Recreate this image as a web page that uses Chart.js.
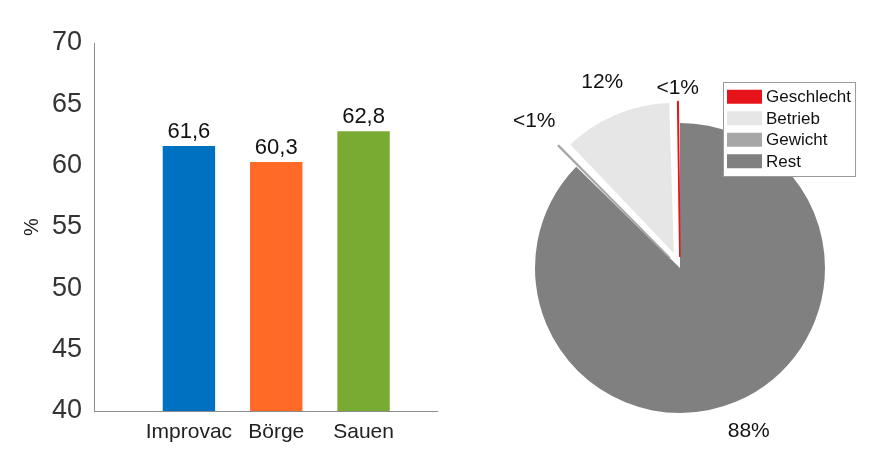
<!DOCTYPE html>
<html>
<head>
<meta charset="utf-8">
<script src="https://cdn.jsdelivr.net/npm/chart.js@4"></script>
<style>
  html, body { margin: 0; padding: 0; background: #fff; }
  #wrap { position: relative; width: 883px; height: 450px; overflow: hidden; }
  #barBox { position: absolute; left: 0; top: 0; width: 450px; height: 450px; }
  #pieBox { position: absolute; left: 450px; top: 0; width: 433px; height: 450px; }
</style>
</head>
<body>
<div id="wrap">
  <div id="barBox"><canvas id="barChart" width="450" height="450"></canvas></div>
  <div id="pieBox"><canvas id="pieChart" width="433" height="450"></canvas></div>
</div>
<script>
const FONT = "'Liberation Sans', Arial, sans-serif";

// bar chart data
const barCategories = ["Improvac", "Börge", "Sauen"];
const barValues = [61.6, 60.3, 62.8];
const barColors = ["#0070c0", "#ff6a27", "#79ab33"];
const yMin = 40;
const yMax = 70;
const yStep = 5;

// pie chart data (legend order, counter-clockwise from 12 o'clock)
const pieLabels = ["Geschlecht", "Betrieb", "Gewicht", "Rest"];
const pieValues = [0.4, 11.8, 0.5, 87.3];
const pieText = ["<1%", "12%", "<1%", "88%"];
const pieColors = ["#e8141b", "#e6e6e6", "#a6a6a6", "#808080"];
// Chart.js moves an arc by offset / 4
const pieExplode = [44, 64, 56, 0];
// thin slices get an outline in their own colour so they stay visible
const pieOutline = [1.6, 0, 1.6, 0];

Chart.defaults.font.family = FONT;
Chart.defaults.animation = false;

// numbers above the bars
const barLabels = {
  id: "barLabels",
  afterDatasetsDraw(chart) {
    const ctx = chart.ctx;
    const meta = chart.getDatasetMeta(0);
    ctx.save();
    ctx.font = "22px " + FONT;
    ctx.fillStyle = "#111";
    ctx.textAlign = "center";
    ctx.textBaseline = "alphabetic";
    meta.data.forEach((bar, i) => {
      const txt = barValues[i].toFixed(1).replace(".", ",");
      ctx.fillText(txt, bar.x, bar.y - 8);
    });
    ctx.restore();
  }
};

new Chart(document.getElementById("barChart"), {
  type: "bar",
  data: {
    datasets: [{
      data: barValues.map((v, i) => ({ x: i + 1, y: v })),
      backgroundColor: barColors,
      borderWidth: 0,
      barPercentage: 0.6,
      categoryPercentage: 1
    }]
  },
  options: {
    responsive: false,
    layout: { padding: { top: 43, right: 13, left: 0, bottom: 0 } },
    plugins: { legend: { display: false }, tooltip: { enabled: false } },
    scales: {
      x: {
        type: "linear",
        offset: false,
        bounds: "data",
        min: -0.087,
        max: 3.841,
        afterBuildTicks: (scale) => {
          scale.ticks = barCategories.map((_, i) => ({ value: i + 1 }));
        },
        afterFit: (scale) => { scale.height = 39; },
        grid: { display: true, offset: false, drawOnChartArea: false, drawTicks: false },
        border: { color: "#8c8c8c", width: 1 },
        ticks: {
          padding: 9,
          color: "#222",
          font: { size: 21 },
          callback: (v) => barCategories[v - 1] || ""
        }
      },
      y: {
        min: yMin,
        max: yMax,
        afterFit: (scale) => { scale.width = 94; },
        grid: { display: true, drawOnChartArea: false, drawTicks: false },
        border: { color: "#8c8c8c", width: 1 },
        ticks: { stepSize: yStep, padding: 12, color: "#333", font: { size: 27 } },
        title: {
          display: true,
          text: "%",
          color: "#222",
          font: { size: 20 },
          padding: { top: 20, bottom: 0 }
        }
      }
    }
  },
  plugins: [barLabels]
});

// percentage texts around the pie
const pieText2 = {
  id: "pieText2",
  afterDatasetsDraw(chart, args, opts) {
    const ctx = chart.ctx;
    const meta = chart.getDatasetMeta(0);
    ctx.save();
    ctx.font = "21px " + FONT;
    ctx.fillStyle = "#111";
    ctx.textAlign = "center";
    ctx.textBaseline = "middle";
    meta.data.forEach((arc, i) => {
      const mid = (arc.startAngle + arc.endAngle) / 2;
      const d = arc.outerRadius * opts.dist[i] + (arc.options.offset || 0) / 4;
      ctx.fillText(chart.data.datasets[0].text[i], arc.x + Math.cos(mid) * d, arc.y + Math.sin(mid) * d);
    });
    ctx.restore();
  }
};

// boxed legend drawn over the pie
const pieLegend = {
  id: "pieLegend",
  afterDraw(chart, args, opts) {
    const ctx = chart.ctx;
    ctx.save();
    ctx.font = opts.fontSize + "px " + FONT;
    let textW = 0;
    pieLabels.forEach((l) => { textW = Math.max(textW, ctx.measureText(l).width); });
    const w = opts.pad + opts.boxW + opts.gap + textW + opts.pad;
    const h = opts.rowH * pieLabels.length + opts.pad * 2;
    ctx.fillStyle = "#fff";
    ctx.fillRect(opts.x, opts.y, w, h);
    ctx.strokeStyle = "#9a9a9a";
    ctx.lineWidth = 1;
    ctx.strokeRect(opts.x + 0.5, opts.y + 0.5, w, h);
    ctx.textBaseline = "middle";
    ctx.textAlign = "left";
    pieLabels.forEach((l, i) => {
      const cy = opts.y + opts.pad + opts.rowH * (i + 0.5);
      ctx.fillStyle = pieColors[i];
      ctx.fillRect(opts.x + opts.pad, cy - opts.boxH / 2, opts.boxW, opts.boxH);
      ctx.fillStyle = "#111";
      ctx.fillText(l, opts.x + opts.pad + opts.boxW + opts.gap, cy + 1);
    });
    ctx.restore();
  }
};

// drawn clockwise, so reverse to get the counter-clockwise order
const rev = (a) => a.slice().reverse();

new Chart(document.getElementById("pieChart"), {
  type: "pie",
  data: {
    labels: rev(pieLabels),
    datasets: [{
      data: rev(pieValues),
      text: rev(pieText),
      backgroundColor: rev(pieColors),
      borderColor: rev(pieColors),
      borderWidth: rev(pieOutline),
      offset: rev(pieExplode),
      hoverOffset: 0
    }]
  },
  options: {
    responsive: false,
    radius: 145,
    layout: { padding: { top: 86, left: 27, right: 0, bottom: 0 } },
    plugins: {
      legend: { display: false },
      tooltip: { enabled: false },
      pieText2: { dist: [1.22, 1.33, 1.28, 1.165] },
      pieLegend: { x: 273, y: 82, pad: 4, boxW: 35, boxH: 14, gap: 4, rowH: 21.5, fontSize: 17 }
    }
  },
  plugins: [pieText2, pieLegend]
});
</script>
</body>
</html>
